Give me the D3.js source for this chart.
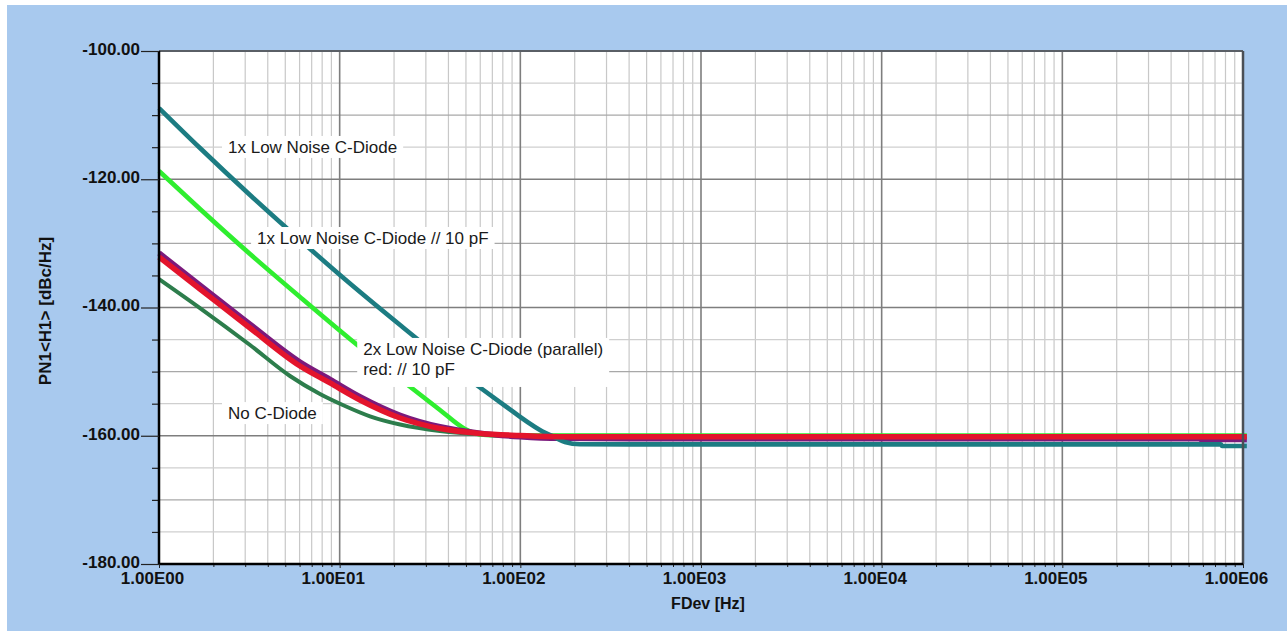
<!DOCTYPE html>
<html><head><meta charset="utf-8">
<script src="https://cdn.jsdelivr.net/npm/d3@7"></script>
<style>
html,body{margin:0;padding:0;background:#fff;}
svg{display:block;}
text{font-family:"Liberation Sans",Arial,sans-serif;}
</style></head>
<body><div id="chart"></div>
<script>
// ---------- data ----------
const xTickValues = [1, 10, 100, 1000, 10000, 100000, 1000000];
const xTickLabels = ["1.00E00", "1.00E01", "1.00E02", "1.00E03", "1.00E04", "1.00E05", "1.00E06"];
const yTickValues = [-100, -120, -140, -160, -180];
const yTickLabels = ["-100.00", "-120.00", "-140.00", "-160.00", "-180.00"];

const noDiodeF = [1, 1.686, 3.19, 5.31, 7.78, 10.7, 14.72, 21.6, 35.9, 59.8, 99.5, 165.7, 1000, 1e6, 1.05e6];
const noDiodeV = [-135.56, -140.08, -145.85, -150.68, -153.49, -155.36, -156.97, -158.25, -159.26, -159.78, -159.95, -160.01, -160.02, -160.02, -160.02];

const greenF = [1, 1.686, 3.19, 6.03, 11.4, 21.6, 35.9, 49.4, 59.8, 77.1, 1000, 1e6, 1.05e6];
const greenV = [-118.71, -124.64, -131.66, -138.36, -144.91, -151.15, -155.98, -158.95, -159.8, -159.96, -159.96, -159.96, -159.96];

const tealF = [1, 1.686, 3.19, 6.03, 10.04, 21.6, 40.8, 77.1, 128.4, 155.4, 176.5, 213.7, 400, 1e4, 1e5, 7.55e5, 7.65e5, 1.05e6];
const tealV = [-108.9, -115.13, -122.46, -129.47, -134.93, -142.73, -148.97, -154.74, -159.1, -160.26, -160.97, -161.33, -161.35, -161.35, -161.35, -161.35, -161.6, -161.6];

const purpleF = [1, 1.686, 3.19, 6.03, 8.84, 12.95, 21.6, 35.9, 59.8, 99.5, 165.7, 400, 1e4, 5.75e5, 5.85e5, 1.05e6];
const purpleV = [-131.5, -136.5, -142.6, -148.5, -151.2, -153.9, -156.8, -158.6, -159.6, -160.15, -160.4, -160.45, -160.45, -160.45, -160.6, -160.6];

const redF = [1, 1.686, 3.19, 6.03, 8.84, 12.95, 21.6, 35.9, 59.8, 99.5, 165.7, 400, 1e4, 1e6, 1.05e6];
const redV = [-132.12, -137.12, -143.2, -149.12, -151.77, -154.42, -157.23, -158.87, -159.65, -159.96, -160.15, -160.15, -160.15, -160.15, -160.15];

const seriesNames = ["No C-Diode", "1x Low Noise C-Diode // 10 pF", "1x Low Noise C-Diode", "2x Low Noise C-Diode (parallel)", "red: // 10 pF"];
const seriesColors = ["#2d7d4c", "#2fee2f", "#1c7c82", "#7b1a7c", "#e3142c"];

const labelTexts = [
  ["1x Low Noise C-Diode"],
  ["1x Low Noise C-Diode // 10 pF"],
  ["2x Low Noise C-Diode (parallel)", "red: // 10 pF"],
  ["No C-Diode"]
];
const labelAnchors = [[2.41, -115.9], [3.49, -130.1], [13.5, -147.4], [2.41, -157.4]];

// ---------- layout ----------
const W = 1287, H = 631;
const M = {left: 159, top: 51, right: 1243, bottom: 564};

const svg = d3.select("#chart").append("svg").attr("width", W).attr("height", H);
svg.append("rect").attr("x", 7).attr("y", 5).attr("width", W - 7).attr("height", H - 5).attr("fill", "#a8c9ee");

const x = d3.scaleLog().domain([1, 1e6]).range([M.left, M.right]);
const y = d3.scaleLinear().domain([-180, -100]).range([M.bottom, M.top]);

svg.append("rect").attr("x", M.left).attr("y", M.top).attr("width", M.right - M.left).attr("height", M.bottom - M.top).attr("fill", "#fff");

// gridlines
const minorX = [];
for (let d = 0; d < 6; d++) for (let k = 2; k <= 9; k++) minorX.push(k * Math.pow(10, d));
const grid = svg.append("g");
grid.selectAll(".vmin").data(minorX).join("line")
  .attr("x1", d => x(d)).attr("x2", d => x(d)).attr("y1", M.top).attr("y2", M.bottom)
  .attr("stroke", "#c8c8c8").attr("stroke-width", 1.2);
const yGrid = d3.range(-175, -100, 5);
grid.selectAll(".h").data(yGrid).join("line")
  .attr("x1", M.left).attr("x2", M.right).attr("y1", d => y(d)).attr("y2", d => y(d))
  .attr("stroke", d => d % 20 === 0 ? "#7e7e7e" : (d % 10 === 0 ? "#a8a8a8" : "#cfcfcf"))
  .attr("stroke-width", d => d % 20 === 0 ? 1.4 : 1.2);
grid.selectAll(".vmaj").data(xTickValues.slice(1, -1)).join("line")
  .attr("x1", d => x(d)).attr("x2", d => x(d)).attr("y1", M.top).attr("y2", M.bottom)
  .attr("stroke", "#7e7e7e").attr("stroke-width", 1.6);

// series
const line = d3.line().x(d => x(d[0])).y(d => y(d[1])).curve(d3.curveMonotoneX);
const series = [
  {f: noDiodeF, v: noDiodeV, w: 4, c: 0},
  {f: greenF, v: greenV, w: 4.6, c: 1},
  {f: purpleF, v: purpleV, w: 5.5, c: 3},
  {f: tealF, v: tealV, w: 4.6, c: 2},
  {f: redF, v: redV, w: 5.5, c: 4}
];
const lines = svg.append("g");
series.forEach(s => {
  lines.append("path").datum(s.f.map((f, j) => [f, s.v[j]]))
    .attr("d", line).attr("fill", "none")
    .attr("stroke", seriesColors[s.c]).attr("stroke-width", s.w)
    .attr("stroke-linejoin", "round").attr("stroke-linecap", "butt");
});

// labels with white boxes
const lab = svg.append("g");
labelTexts.forEach((lines_, i) => {
  const g = lab.append("g");
  const bx = x(labelAnchors[i][0]), by = y(labelAnchors[i][1]);
  const t = g.append("text").attr("x", bx).attr("y", by).attr("font-size", 17).attr("fill", "#1a1a1a");
  lines_.forEach((s, k) => t.append("tspan").attr("x", bx).attr("dy", k === 0 ? 0 : 20).text(s));
  const bb = t.node().getBBox();
  g.insert("rect", "text").attr("x", bb.x - 6).attr("y", bb.y - 2).attr("width", bb.width + 12)
    .attr("height", bb.height + (lines_.length > 1 ? 10 : 3)).attr("fill", "#fff");
});

// frame
svg.append("line").attr("x1", M.left).attr("x2", M.right).attr("y1", M.top).attr("y2", M.top).attr("stroke", "#5a5f66").attr("stroke-width", 2);
svg.append("line").attr("x1", M.right).attr("x2", M.right).attr("y1", M.top).attr("y2", M.bottom).attr("stroke", "#4a4f56").attr("stroke-width", 2.5);

// y axis
const yMinor = d3.range(-180, -99, 5).filter(d => d % 20 !== 0);
svg.append("g").attr("transform", `translate(${M.left},0)`)
  .call(d3.axisLeft(y).tickValues(yMinor).tickSize(7).tickFormat(""))
  .call(g => g.select(".domain").remove())
  .call(g => g.selectAll("line").attr("stroke", "#222").attr("stroke-width", 1.2));
const yAx = svg.append("g").attr("transform", `translate(${M.left},0)`)
  .call(d3.axisLeft(y).tickValues(yTickValues).tickSize(18).tickPadding(1)
    .tickFormat((d, i) => yTickLabels[i]));
yAx.select(".domain").attr("stroke", "#000").attr("stroke-width", 2.5).attr("d", `M0,${M.top}V${M.bottom}`);
yAx.selectAll("line").attr("stroke", "#222").attr("stroke-width", 1.2);
yAx.selectAll("text").attr("font-size", 17).attr("font-weight", "bold").attr("fill", "#111")
  .attr("font-family", "'Liberation Sans',Arial,sans-serif").attr("dy", "0.2em");

// x axis
svg.append("g").attr("transform", `translate(0,${M.bottom})`)
  .call(d3.axisBottom(x).tickValues(minorX).tickSize(3).tickFormat(""))
  .call(g => g.select(".domain").remove())
  .call(g => g.selectAll("line").attr("stroke", "#222"));
const xAx = svg.append("g").attr("transform", `translate(0,${M.bottom})`)
  .call(d3.axisBottom(x).tickValues(xTickValues).tickSize(4)
    .tickFormat((d, i) => xTickLabels[i]));
xAx.select(".domain").attr("stroke", "#000").attr("stroke-width", 2.5).attr("d", `M${M.left},0H${M.right}`);
xAx.selectAll("line").attr("stroke", "#222");
xAx.selectAll("text").attr("font-size", 17).attr("font-weight", "bold").attr("fill", "#111")
  .attr("font-family", "'Liberation Sans',Arial,sans-serif").attr("y", 20).attr("dy", 0).attr("dx", -7);

// axis titles
svg.append("text").attr("x", 708).attr("y", 609).attr("text-anchor", "middle")
  .attr("font-size", 16).attr("font-weight", "bold").attr("fill", "#111").text("FDev [Hz]");
svg.append("text").attr("transform", "translate(51,311) rotate(-90)").attr("text-anchor", "middle")
  .attr("font-size", 17).attr("font-weight", "bold").attr("fill", "#111").text("PN1<H1> [dBc/Hz]");
</script></body></html>
